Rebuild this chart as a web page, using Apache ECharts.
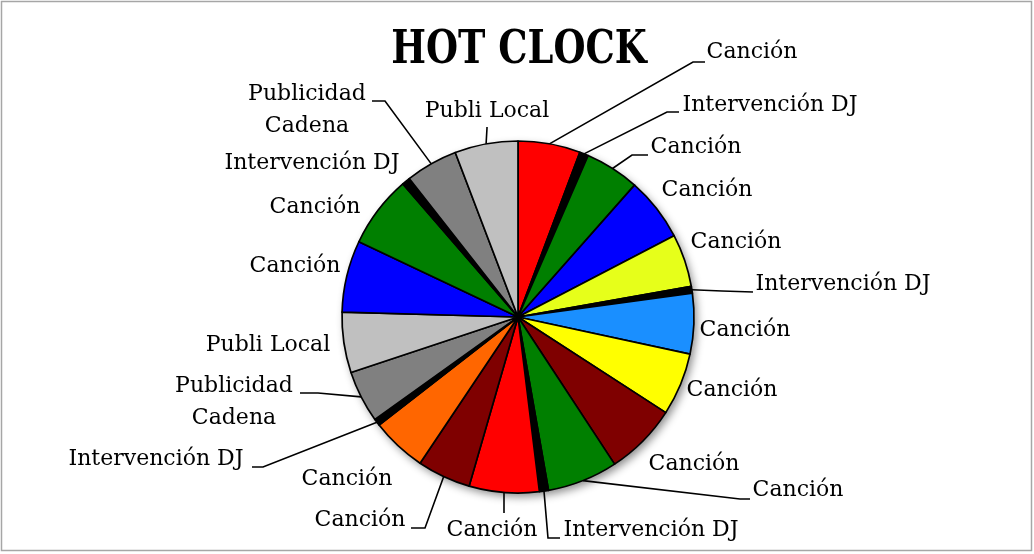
<!DOCTYPE html>
<html>
<head>
<meta charset="utf-8">
<script src="https://cdn.jsdelivr.net/npm/echarts@6/dist/echarts.min.js"></script>
<style>
  html, body { margin: 0; padding: 0; background: #fff; }
  #chart { width: 1034px; height: 554px; }
</style>
</head>
<body>
<div id="chart"></div>
<script>
// segmentos del reloj, en minutos (sentido horario desde las 12)
var segmentos = [
  'Canción', 'Intervención DJ', 'Canción', 'Canción', 'Canción', 'Intervención DJ',
  'Canción', 'Canción', 'Canción', 'Canción', 'Intervención DJ', 'Canción',
  'Canción', 'Canción', 'Intervención DJ', 'Publicidad\nCadena', 'Publi Local',
  'Canción', 'Canción', 'Intervención DJ', 'Publicidad\nCadena', 'Publi Local'
];
var minutos = [
  3.43, 0.48, 3.0, 3.5, 2.92, 0.37,
  3.33, 3.45, 3.97, 3.88, 0.5, 3.85,
  2.95, 3.05, 0.38, 2.87, 3.33,
  3.95, 3.97, 0.45, 2.88, 3.48
];
var colores = [
  '#ff0000', '#000000', '#007f00', '#0000ff', '#e6ff1a', '#000000',
  '#1a8fff', '#ffff00', '#7f0000', '#007f00', '#000000', '#ff0000',
  '#7f0000', '#ff6600', '#000000', '#808080', '#c0c0c0',
  '#0000ff', '#007f00', '#000000', '#808080', '#c0c0c0'
];

/** posicion de cada etiqueta (centro del texto) y codo/fin de su linea guia, estilo Excel */
var posEtiquetas = [
  [752, 52,  [693, 62],  [705, 62]],
  [770, 105, [667, 112], [679, 112]],
  [696, 147, [632, 155], [648, 155]],
  [707, 190, null, null],
  [736, 242, null, null],
  [843, 284, [722, 291], [753, 292]],
  [745, 330, null, null],
  [732, 390, null, null],
  [694, 464, null, null],
  [798, 490, [740, 499], [750, 499]],
  [651, 530, [548, 538], [560, 538]],
  [492, 530, [504, 511], [504, 513]],
  [360, 520, [425, 528], [411, 528]],
  [347, 479, null, null],
  [156, 459, [263, 467], [252, 467]],
  [234, 402, [318, 393], [300, 393]],
  [268, 345, null, null],
  [295, 266, null, null],
  [315, 207, null, null],
  [312, 163, null, null],
  [307, 110, [385, 101], [372, 101]],
  [487, 111, [487, 128], [487, 127]]
];

var chart = echarts.init(document.getElementById('chart'));

var datos = [];
var total = 0;
for (var i = 0; i < segmentos.length; i++) {
  datos.push({
    name: segmentos[i],
    value: minutos[i],
    itemStyle: { color: colores[i] },
    labelLine: { show: posEtiquetas[i][2] != null }
  });
  total += minutos[i];
}

var option = {
  backgroundColor: '#fff',
  animation: false,
  graphic: [{
    type: 'rect',
    shape: { x: 1.5, y: 1.5, width: 1030, height: 549 },
    style: { fill: 'none', stroke: '#a6a6a6', lineWidth: 1.5 },
    silent: true
  }, {
    // titulo algo estrecho, como la Cambria del original
    type: 'text',
    x: 519,
    y: 51,
    scaleX: 0.8,
    style: {
      text: 'HOT CLOCK',
      fill: '#000',
      font: 'bold 46px "DejaVu Serif", serif',
      textAlign: 'center',
      textVerticalAlign: 'middle'
    },
    silent: true
  }],
  series: [{
    // sombra del reloj completo
    type: 'pie',
    center: [518, 317],
    radius: [0, 176],
    silent: true,
    z: 1,
    label: { show: false },
    labelLine: { show: false },
    data: [{ value: total, itemStyle: { color: '#fff' } }],
    itemStyle: {
      shadowBlur: 8,
      shadowOffsetX: 3,
      shadowOffsetY: 4,
      shadowColor: 'rgba(0,0,0,0.45)'
    }
  }, {
    type: 'pie',
    center: [518, 317],
    radius: [0, 176],
    startAngle: 90,
    clockwise: true,
    z: 2,
    data: datos,
    itemStyle: {
      borderColor: '#000',
      borderWidth: 1.7
    },
    label: {
      show: true,
      fontFamily: '"DejaVu Serif", serif',
      fontSize: 22,
      color: '#000',
      lineHeight: 32,
      align: 'center'
    },
    labelLine: {
      show: true,
      length: 14,
      length2: 14,
      lineStyle: { color: '#000', width: 1.6 }
    },
    labelLayout: function (params) {
      var p = posEtiquetas[params.dataIndex];
      var res = { x: p[0], y: p[1], align: 'center', verticalAlign: 'middle' };
      if (p[2] && params.labelLinePoints) {
        res.labelLinePoints = [params.labelLinePoints[0], p[2], p[3]];
      }
      return res;
    }
  }]
};

chart.setOption(option);
</script>
</body>
</html>
